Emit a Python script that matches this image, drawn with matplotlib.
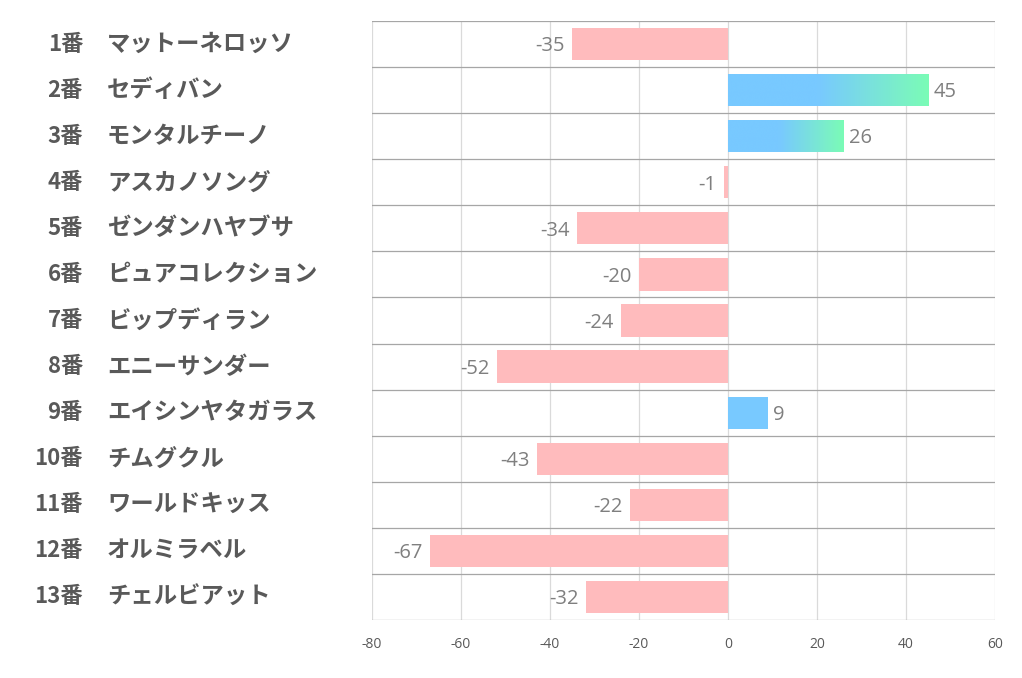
import numpy as np
import matplotlib
matplotlib.use("Agg")
from matplotlib import pyplot as plt
from matplotlib import transforms
from matplotlib.colors import LinearSegmentedColormap

plt.rcParams['font.family'] = ['Noto Sans CJK JP', 'DejaVu Sans']

numbers = ["1番", "2番", "3番", "4番", "5番", "6番", "7番", "8番", "9番",
           "10番", "11番", "12番", "13番"]
names = ["マットーネロッソ", "セディバン", "モンタルチーノ", "アスカノソング",
         "ゼンダンハヤブサ", "ピュアコレクション", "ビップディラン", "エニーサンダー",
         "エイシンヤタガラス", "チムグクル", "ワールドキッス", "オルミラベル", "チェルビアット"]
values = [-35, 45, 26, -1, -34, -20, -24, -52, 9, -43, -22, -67, -32]
xticks = [-80, -60, -40, -20, 0, 20, 40, 60]

pink = "#FFBBBD"
blue = "#78C9FF"
green = "#7BFCB6"
label_col = "#595959"
value_col = "#7F7F7F"

fig = plt.figure(figsize=(10.22, 6.78), dpi=100)
ax = fig.add_axes([372 / 1022, 1 - 620 / 678, 623 / 1022, 599 / 678])

ypos = np.arange(len(values))
colors = [blue if v > 0 else pink for v in values]
bars = ax.barh(ypos, values, height=0.7, color=colors, zorder=3)

# gradient for the longer positive bars (blue -> green toward the end)
cmap = LinearSegmentedColormap.from_list("bg", [(0, blue), (0.45, blue), (1, green)])
grad = np.linspace(0, 1, 256).reshape(1, -1)
for b, v in zip(bars, values):
    if v >= 20:
        x0, y0 = b.get_x(), b.get_y()
        w, h = b.get_width(), b.get_height()
        im = ax.imshow(grad, cmap=cmap, aspect='auto', zorder=4,
                       extent=[x0, x0 + w, y0 + h, y0], interpolation='bicubic')
        im.set_clip_path(b)

for y, v in zip(ypos, values):
    if v < 0:
        ax.text(v - 1.6, y + 0.05, str(v), ha='right', va='center',
                fontsize=14.5, color=value_col, zorder=5,
                family=['Open Sans', 'DejaVu Sans'])
    else:
        ax.text(v + 1.2, y + 0.05, str(v), ha='left', va='center',
                fontsize=14.5, color=value_col, zorder=5,
                family=['Open Sans', 'DejaVu Sans'])

ax.set_xlim(-80, 60)
ax.set_ylim(len(values) - 0.5, -0.5)
ax.set_xticks(xticks)
ax.set_xticklabels([str(t) for t in xticks], fontsize=10, color=label_col,
                   family=['Open Sans', 'DejaVu Sans'])
ax.tick_params(axis='x', length=0, pad=12)
ax.set_yticks([])
for s in ax.spines.values():
    s.set_visible(False)

for t in xticks:
    ax.axvline(t, color="#DADADA", linewidth=0.9, zorder=1)
for i in range(len(values) + 1):
    ax.axhline(i - 0.5, color="#A6A6A6", linewidth=0.9, zorder=2)

trans = transforms.blended_transform_factory(fig.transFigure, ax.transData)
for y, num, nm in zip(ypos, numbers, names):
    fig.text(83 / 1022, y, num, transform=trans, ha='right', va='center',
             fontsize=16, fontweight='bold', color=label_col)
    fig.text(107 / 1022, y, nm, transform=trans, ha='left', va='center',
             fontsize=16.8, fontweight='bold', color=label_col)

fig.savefig("out.png", dpi=100)
